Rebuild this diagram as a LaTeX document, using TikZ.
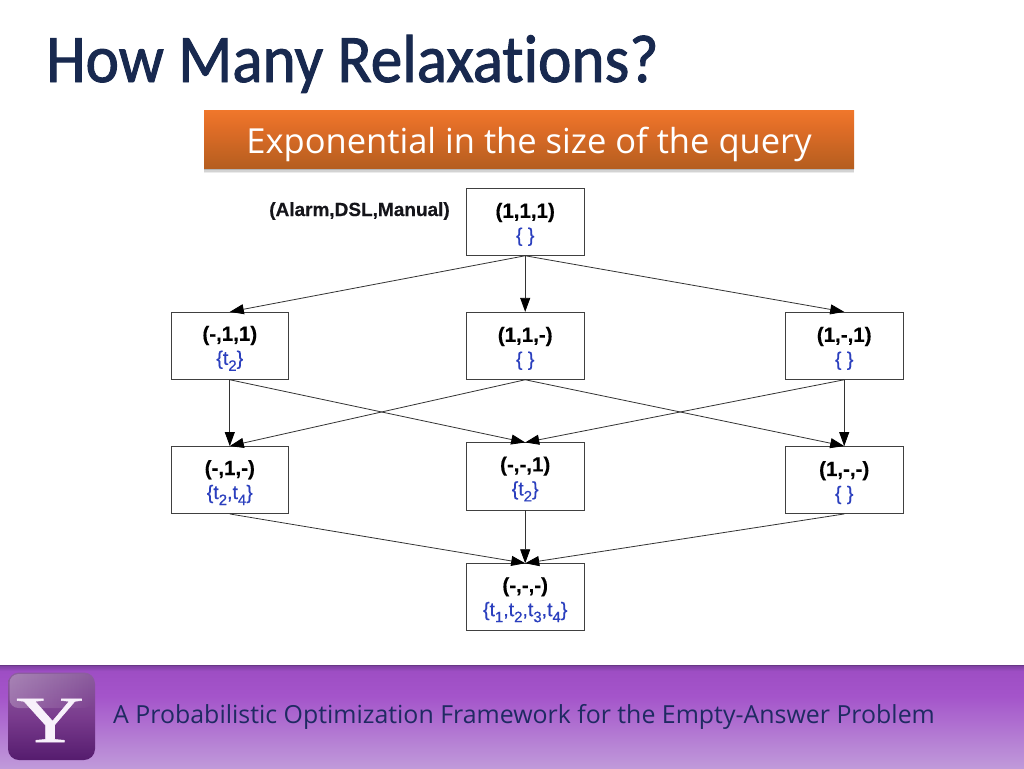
\documentclass[tikz,border=0pt]{standalone}
\usepackage{fontspec}
\setmainfont[BoldFeatures={FakeBold=0.4}]{Liberation Sans}
\newfontfamily\carlito[Ligatures=NoCommon,FakeBold=1.4,FakeStretch=0.93]{Carlito}
\newfontfamily\opensans{Open Sans}
\newfontfamily\logoserif[FakeBold=0.8]{Liberation Serif}
\newfontfamily\setfont[FakeBold=0.5]{Liberation Sans}
\usetikzlibrary{arrows.meta,fadings}
\definecolor{ink}{HTML}{15151A}
\definecolor{setblue}{HTML}{2B3FBE}
\definecolor{titlenavy}{HTML}{18294F}
\definecolor{footink}{HTML}{1F2A62}
\definecolor{c0}{HTML}{C09ADA}
\definecolor{c1}{HTML}{A454CA}
\definecolor{c2}{HTML}{9E4EC4}
\definecolor{c3}{HTML}{7A3F9E}
\definecolor{o0}{HTML}{B55E1F}
\definecolor{o1}{HTML}{E06D27}
\definecolor{o2}{HTML}{F0772B}
\definecolor{l0}{HTML}{551C6E}
\definecolor{l1}{HTML}{7A3C8E}
\definecolor{l2}{HTML}{8C5E9E}
\pgfdeclareverticalshading{bandshade}{100bp}{color(0bp)=(c0);color(25bp)=(c0);color(60bp)=(c1);color(72bp)=(c2);color(75bp)=(c3);color(100bp)=(c3)}
\pgfdeclareverticalshading{orangeshade}{100bp}{color(0bp)=(o0);color(25bp)=(o0);color(60bp)=(o1);color(75bp)=(o2);color(100bp)=(o2)}
\pgfdeclareverticalshading{logoshade}{100bp}{color(0bp)=(l0);color(25bp)=(l0);color(50bp)=(l1);color(75bp)=(l2);color(100bp)=(l2)}
\tikzset{
  statebox/.style={draw=black!75,line width=0.7pt,fill=white,minimum width=117.5pt,minimum height=67.2pt,inner sep=0pt,align=center,font=\fontsize{20.5}{24}\selectfont\bfseries},
  link/.style={draw=black!80,line width=0.8pt,-{Triangle[length=14pt,width=10pt,color=black]}},
}
\newcommand{\lbl}[2]{\rule{0pt}{20pt}#1\\{\color{setblue}\setfont\mdseries\fontsize{19.5}{24}\selectfont #2}}
\newcommand{\tsub}[1]{t\raisebox{-6pt}{\fontsize{15}{15}\selectfont #1}}
\begin{document}
\begin{tikzpicture}[x=1pt,y=-1pt]
\useasboundingbox (0,0) rectangle (1024,768);
\fill[white] (0,0) rectangle (1024,768);
% title
\node[anchor=base west,inner sep=0pt,text=titlenavy,font=\carlito\fontsize{68}{68}\selectfont] (title) at (46,82) {How Many Relaxations?};
% subtitle
\foreach \d/\o in {5/.08,3.5/.1,2/.14}
  \fill[black,opacity=\o] (204,114) rectangle (854,168+\d);
\path[shading=orangeshade] (204,110) rectangle (854,168);
\node[anchor=base,text=white,inner sep=0pt,font=\opensans\fontsize{34.5}{34.5}\selectfont] (subtitle) at (529,153) {Exponential in the size of the query};
% graph
\node[anchor=base,inner sep=0pt,font=\fontsize{19}{19}\selectfont\bfseries,text=ink] (attrs) at (359.5,216) {(Alarm,DSL,Manual)};
\node[statebox] (a) at (525.2,221.8) {\lbl{(1,1,1)}{\{ \}}};
\node[statebox] (b1) at (229.8,345.8) {\lbl{(-,1,1)}{\{\tsub{2}\}}};
\node[statebox] (b2) at (525.2,345.8) {\lbl{(1,1,-)}{\{ \}}};
\node[statebox] (b3) at (844.2,345.8) {\lbl{(1,-,1)}{\{ \}}};
\node[statebox] (c1) at (229.8,480) {\lbl{(-,1,-)}{\{\tsub{2},\tsub{4}\}}};
\node[statebox] (c2) at (525.2,476.4) {\lbl{(-,-,1)}{\{\tsub{2}\}}};
\node[statebox] (c3) at (844.2,480) {\lbl{(1,-,-)}{\{ \}}};
\node[statebox] (d) at (525.2,597.2) {\lbl{(-,-,-)}{\{\tsub{1},\tsub{2},\tsub{3},\tsub{4}\}}};
\foreach \s/\t in {a/b1,a/b2,a/b3,b1/c1,b1/c2,b2/c1,b2/c3,b3/c2,b3/c3,c1/d,c2/d,c3/d}
  \draw[link] (\s.south) -- (\t.north);
% footer
\path[shading=bandshade] (0,665) rectangle (1024,768);
\draw[line width=1pt,color=c3!85!black] (0,665.5) -- (1024,665.5);
\path[shading=logoshade,rounded corners=11pt] (8,672.5) rectangle (95,760);
\fill[white,opacity=.24,path fading=east,rounded corners=9pt] (9.5,674) rectangle (93,708);
\node[anchor=base,text=white!92!c1,inner sep=0pt,font=\logoserif\fontsize{66}{66}\selectfont] (logo) at (50,742) {\scalebox{1.42}[1]{Y}};
\node[anchor=base west,inner sep=0pt,text=footink,font=\opensans\fontsize{24.9}{24.9}\selectfont] (foot) at (113,723) {A Probabilistic Optimization Framework for the Empty-Answer Problem};
\end{tikzpicture}
\end{document}
